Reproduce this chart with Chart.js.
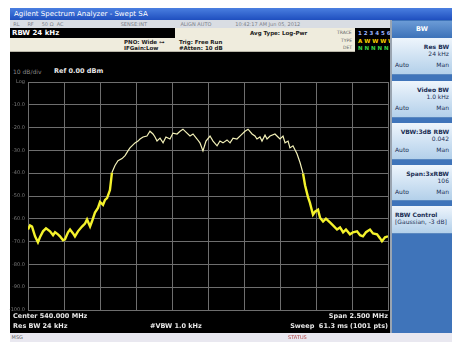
<!DOCTYPE html>
<html>
<head>
<meta charset="utf-8">
<script src="https://cdn.jsdelivr.net/npm/chart.js@4/dist/chart.umd.min.js"></script>
<style>
  html, body { margin: 0; padding: 0; background: #ffffff; }
  body { width: 452px; height: 345px; position: relative; overflow: hidden;
         font-family: "DejaVu Sans", "Liberation Sans", sans-serif; }
  .abs { position: absolute; white-space: nowrap; }
  #titlebar { left: 10px; top: 8px; width: 442px; height: 12px;
              background: linear-gradient(#4a7fe0, #1f4fbf); color: #fff;
              font-size: 7px; line-height: 12px; padding-left: 4px; box-sizing: border-box; }
  #toolbar { left: 10px; top: 20px; width: 380px; height: 8px; background: #d9dde3;
             color: #7a8088; font-size: 5px; line-height: 8px; }
  #rbwbox { left: 10px; top: 28px; width: 165px; height: 10px; background: #000;
            color: #fff; font-size: 7px; font-weight: bold; line-height: 10px; padding-left: 2px; box-sizing: border-box; }
  #beige1 { left: 175px; top: 28px; width: 180px; height: 10px; background: #efecdd; }
  #beige2 { left: 10px; top: 38px; width: 345px; height: 14px; background: #efecdd;
            border-bottom: 1px solid #b9b6a8; box-sizing: border-box; }
  .info { color: #222; font-size: 5.5px; font-weight: bold; line-height: 6px; }
  .tiny { color: #666; font-size: 4.5px; line-height: 5px; }
  #tracebox { left: 355px; top: 28px; width: 35px; height: 24px; background: #000; }
  #main { left: 10px; top: 52px; width: 380px; height: 281px; background: #000; }
  #plot { position: absolute; left: 8px; top: 76px; }
  .wt { color: #e8e8e8; font-size: 6.5px; font-weight: bold; }
  #panel { left: 390px; top: 20px; width: 62px; height: 313px; background: #3f74ba;
           border-left: 2px solid #9aa4b0; box-sizing: border-box; }
  #panelhead { left: 392px; top: 21px; width: 60px; height: 16px;
               background: linear-gradient(#6b9bd6, #3f74ba); color: #fff;
               font-size: 6.5px; font-weight: bold; text-align: center; line-height: 16px; }
  .key { position: absolute; left: 392px; width: 60px;
         background: linear-gradient(#eef5fc, #b3d0ea); color: #1b2f55;
         font-size: 6px; font-weight: bold; box-sizing: border-box; padding: 2px 3px;
         border-bottom: 1px solid #5a88c0; }
  .key .r { text-align: right; line-height: 7px; }
  .key .row { display: flex; justify-content: space-between; line-height: 7px; font-weight: normal; }
  #status { left: 10px; top: 333px; width: 442px; height: 9px; background: #e9e8f0;
            font-size: 5px; line-height: 9px; color: #666; }
</style>
</head>
<body>
<div id="titlebar" class="abs">Agilent Spectrum Analyzer - Swept SA</div>
<div id="toolbar" class="abs">&nbsp;&nbsp;RL&nbsp;&nbsp;&nbsp;&nbsp;&nbsp;RF&nbsp;&nbsp;&nbsp;&nbsp;&nbsp;50 Ω&nbsp;&nbsp;AC&nbsp;&nbsp;&nbsp;&nbsp;&nbsp;&nbsp;&nbsp;&nbsp;&nbsp;&nbsp;&nbsp;&nbsp;&nbsp;&nbsp;&nbsp;&nbsp;&nbsp;&nbsp;&nbsp;&nbsp;&nbsp;&nbsp;&nbsp;&nbsp;&nbsp;&nbsp;&nbsp;&nbsp;&nbsp;&nbsp;&nbsp;&nbsp;&nbsp;&nbsp;&nbsp;&nbsp;SENSE:INT&nbsp;&nbsp;&nbsp;&nbsp;&nbsp;&nbsp;&nbsp;&nbsp;&nbsp;&nbsp;&nbsp;&nbsp;&nbsp;&nbsp;&nbsp;&nbsp;&nbsp;&nbsp;&nbsp;&nbsp;&nbsp;ALIGN AUTO&nbsp;&nbsp;&nbsp;&nbsp;&nbsp;&nbsp;&nbsp;&nbsp;&nbsp;&nbsp;&nbsp;&nbsp;&nbsp;&nbsp;&nbsp;10:42:17 AM Jun 05, 2012</div>
<div id="rbwbox" class="abs">RBW 24 kHz</div>
<div id="beige1" class="abs"></div>
<div id="beige2" class="abs"></div>
<div class="abs info" style="left:124px;top:39px;">PNO: Wide ⊶</div>
<div class="abs info" style="left:124px;top:45px;">IFGain:Low</div>
<div class="abs info" style="left:179px;top:39px;">Trig: Free Run</div>
<div class="abs info" style="left:179px;top:45px;">#Atten: 10 dB</div>
<div class="abs info" style="left:250px;top:30px;">Avg Type: Log-Pwr</div>
<div class="abs tiny" style="left:337px;top:30px;">TRACE</div>
<div class="abs tiny" style="left:341px;top:38px;">TYPE</div>
<div class="abs tiny" style="left:343px;top:45px;">DET</div>
<div id="tracebox" class="abs"></div>
<div class="abs" style="left:358px;top:30px;font-size:5.5px;color:#9bb4ff;font-weight:bold;">1 2 3 4 5 6</div>
<div class="abs" style="left:358px;top:38px;font-size:5.5px;color:#ffd200;font-weight:bold;">A W W W W W</div>
<div class="abs" style="left:358px;top:45px;font-size:5.5px;color:#3fd24a;font-weight:bold;">N N N N N N</div>

<div id="main" class="abs"></div>
<div class="abs" style="left:13px;top:68px;font-size:6px;color:#8a8a8a;">10 dB/div</div>
<div class="abs wt" style="left:54px;top:67px;">Ref 0.00 dBm</div>
<canvas id="plot" width="384" height="240"></canvas>
<div class="abs wt" style="left:13px;top:312px;">Center 540.000 MHz</div>
<div class="abs wt" style="left:13px;top:322px;">Res BW 24 kHz</div>
<div class="abs wt" style="left:150px;top:322px;">#VBW 1.0 kHz</div>
<div class="abs wt" style="right:64px;top:312px;">Span 2.500 MHz</div>
<div class="abs wt" style="right:64px;top:322px;">Sweep&nbsp; 61.3 ms (1001 pts)</div>

<div id="panel" class="abs"></div>
<div id="panelhead" class="abs">BW</div>
<div class="key" style="top:38px;height:37px;">
  <div class="r" style="margin-top:3px;">Res BW</div>
  <div class="r" style="font-weight:normal;">24 kHz</div>
  <div class="row" style="margin-top:4px;"><span>Auto</span><span>Man</span></div>
</div>
<div class="key" style="top:81px;height:37px;">
  <div class="r" style="margin-top:3px;">Video BW</div>
  <div class="r" style="font-weight:normal;">1.0 kHz</div>
  <div class="row" style="margin-top:4px;"><span>Auto</span><span>Man</span></div>
</div>
<div class="key" style="top:123px;height:37px;">
  <div class="r" style="margin-top:3px;">VBW:3dB RBW</div>
  <div class="r" style="font-weight:normal;">0.042</div>
  <div class="row" style="margin-top:4px;"><span>Auto</span><span>Man</span></div>
</div>
<div class="key" style="top:165px;height:36px;">
  <div class="r" style="margin-top:3px;">Span:3xRBW</div>
  <div class="r" style="font-weight:normal;">106</div>
  <div class="row" style="margin-top:4px;"><span>Auto</span><span>Man</span></div>
</div>
<div class="key" style="top:206px;height:28px;">
  <div class="r" style="margin-top:3px;text-align:left;">RBW Control</div>
  <div class="r" style="font-weight:normal;text-align:left;">[Gaussian, -3 dB]</div>
</div>

<div id="status" class="abs">&nbsp;MSG<span style="position:absolute;left:278px;color:#b04040;">STATUS</span></div>

<script>
// Swept trace: frequency (MHz) and level (dBm)
const freqMHz = [
  538.750, 538.764, 538.778, 538.799, 538.819, 538.833, 538.854, 538.875, 538.903, 538.924,
  538.938, 538.958, 538.972, 538.993, 539.007, 539.028, 539.042, 539.063, 539.076, 539.097,
  539.125, 539.146, 539.160, 539.181, 539.194, 539.215, 539.236, 539.250, 539.271, 539.285,
  539.299, 539.319, 539.333, 539.354, 539.375, 539.403, 539.424, 539.444, 539.458, 539.479,
  539.493, 539.514, 539.528, 539.549, 539.576, 539.597, 539.618, 539.632, 539.646, 539.667,
  539.688, 539.708, 539.736, 539.757, 539.785, 539.806, 539.826, 539.847, 539.875, 539.896,
  539.924, 539.944, 539.965, 539.986, 540.014, 540.035, 540.063, 540.083, 540.104, 540.132,
  540.153, 540.174, 540.201, 540.229, 540.257, 540.278, 540.306, 540.326, 540.340, 540.361,
  540.375, 540.396, 540.410, 540.431, 540.465, 540.486, 540.500, 540.521, 540.535, 540.556,
  540.569, 540.590, 540.618, 540.639, 540.660, 540.674, 540.694, 540.708, 540.729, 540.743,
  540.764, 540.778, 540.799, 540.819, 540.847, 540.868, 540.896, 540.917, 540.938, 540.958,
  540.986, 541.007, 541.035, 541.056, 541.076, 541.097, 541.125, 541.146, 541.174, 541.194,
  541.208, 541.229, 541.250
];
const levelDbm = [
  -64.7, -62.9, -63.4, -67.7, -70.3, -68.1, -65.5, -64.2, -65.5, -67.2,
  -65.9, -66.8, -67.7, -69.4, -69.0, -65.9, -64.7, -66.4, -67.7, -65.5,
  -63.4, -62.1, -60.3, -63.4, -61.2, -57.3, -55.2, -52.6, -53.9, -51.7,
  -50.9, -47.4, -39.7, -36.6, -34.5, -33.6, -32.3, -30.2, -28.9, -27.6,
  -26.7, -25.9, -25.0, -24.1, -23.7, -21.6, -22.8, -24.1, -25.9, -24.6,
  -26.7, -24.1, -25.0, -22.4, -22.8, -21.6, -20.7, -22.0, -23.7, -22.8,
  -25.0, -26.7, -30.2, -25.9, -23.7, -25.9, -28.0, -25.9, -26.7, -25.4,
  -26.7, -24.6, -25.0, -23.3, -21.6, -20.7, -22.8, -23.7, -25.0, -24.1,
  -25.9, -23.3, -25.0, -23.7, -22.8, -24.1, -25.0, -23.7, -26.7, -25.9,
  -28.9, -28.0, -31.5, -35.3, -40.1, -45.3, -50.4, -53.0, -58.2, -56.9,
  -56.0, -59.5, -61.2, -59.9, -61.6, -62.9, -64.7, -63.8, -65.9, -64.7,
  -66.8, -65.9, -65.5, -67.2, -67.7, -65.9, -64.7, -66.4, -66.8, -68.5,
  -69.8, -68.1, -67.7
];
// Display settings: center 540 MHz, span 2.5 MHz, ref 0 dBm, 10 dB/div
const centerMHz = 540.0;
const spanMHz = 2.5;
const refLevel = 0;
const dbPerDiv = 10;
const yTicks = [0, -10, -20, -30, -40, -50, -60, -70, -80, -90, -100];

const points = freqMHz.map((f, i) => ({ x: f, y: levelDbm[i] }));
const gridColor = '#6e6e6e';

new Chart(document.getElementById('plot'), {
  type: 'line',
  data: {
    datasets: [{
      data: points,
      borderColor: '#f4f22c',
      borderWidth: 2.4,
      pointRadius: 0,
      tension: 0,
      segment: {
        borderColor: ctx => (ctx.p0.parsed.y > -45 && ctx.p1.parsed.y > -45) ? '#f3f1b8' : '#f4f22c',
        borderWidth: ctx => (ctx.p0.parsed.y > -45 && ctx.p1.parsed.y > -45) ? 1.2 : 2.4
      }
    }]
  },
  options: {
    responsive: false,
    animation: false,
    devicePixelRatio: 1,
    layout: { padding: { top: 4, right: 4, bottom: 4, left: 0 } },
    plugins: { legend: { display: false }, tooltip: { enabled: false } },
    scales: {
      x: {
        type: 'linear',
        min: centerMHz - spanMHz / 2,
        max: centerMHz + spanMHz / 2,
        afterBuildTicks: s => {
          s.ticks = Array.from({ length: 11 }, (_, i) => ({ value: s.min + i * spanMHz / 10 }));
        },
        ticks: { display: false },
        grid: { color: gridColor, drawTicks: false, lineWidth: 1 },
        border: { color: gridColor },
        afterFit: s => { s.height = 0; }
      },
      y: {
        min: refLevel - 10 * dbPerDiv,
        max: refLevel,
        afterBuildTicks: s => { s.ticks = yTicks.map(v => ({ value: v })); },
        ticks: {
          color: '#7c7c7c',
          font: { size: 5, family: 'DejaVu Sans' },
          padding: 3,
          callback: v => (v === refLevel ? 'Log' : v.toFixed(1))
        },
        grid: { color: gridColor, drawTicks: false, lineWidth: 1 },
        border: { color: gridColor },
        afterFit: s => { s.width = 20; }
      }
    }
  }
});
</script>
</body>
</html>
